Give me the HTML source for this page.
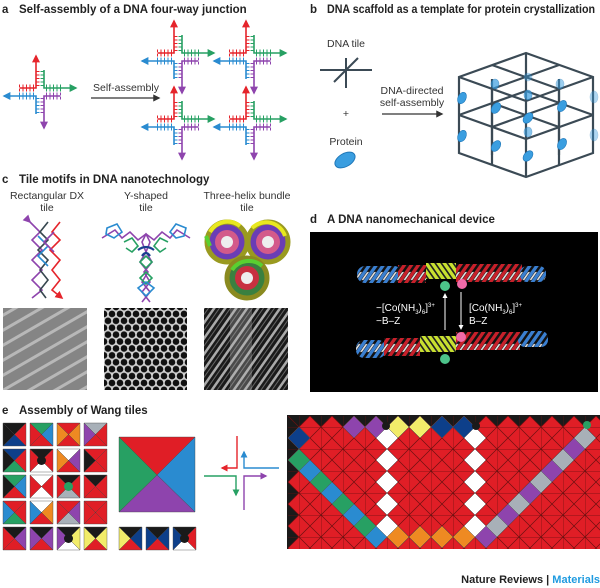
<!DOCTYPE html>
<html><head><meta charset="utf-8"><style>
html,body{margin:0;padding:0;background:#fff;}
svg{display:block;font-family:"Liberation Sans",sans-serif;}
.t{font-weight:bold;font-size:11.5px;fill:#222;}
.l{font-size:10.5px;fill:#333;}
</style></head><body>
<svg width="600" height="588" viewBox="0 0 600 588" xmlns="http://www.w3.org/2000/svg">
<defs>
<marker id="ak" viewBox="0 0 10 10" refX="8" refY="5" markerWidth="6" markerHeight="6" orient="auto"><path d="M0,0L10,5L0,10z" fill="#333"/></marker>
<marker id="ar" viewBox="0 0 10 10" refX="8" refY="5" markerWidth="5" markerHeight="5" orient="auto"><path d="M0,0L10,5L0,10z" fill="#e5242b"/></marker>
<marker id="ag" viewBox="0 0 10 10" refX="8" refY="5" markerWidth="5" markerHeight="5" orient="auto"><path d="M0,0L10,5L0,10z" fill="#27a063"/></marker>
<marker id="ab" viewBox="0 0 10 10" refX="8" refY="5" markerWidth="5" markerHeight="5" orient="auto"><path d="M0,0L10,5L0,10z" fill="#2a8bd0"/></marker>
<marker id="ap" viewBox="0 0 10 10" refX="8" refY="5" markerWidth="5" markerHeight="5" orient="auto"><path d="M0,0L10,5L0,10z" fill="#8e44ad"/></marker>
<marker id="aw" viewBox="0 0 10 10" refX="8" refY="5" markerWidth="5" markerHeight="5" orient="auto"><path d="M0,0L10,5L0,10z" fill="#fff"/></marker>
<g id="jn" fill="none" stroke-width="1.6">
 <path d="M-20,-4H-4V-36" stroke="#e5242b" marker-end="url(#ar)"/>
 <path d="M4,-22V-4H36" stroke="#27a063" marker-end="url(#ag)"/>
 <path d="M20,4H4V36" stroke="#8e44ad" marker-end="url(#ap)"/>
 <path d="M-4,22V4H-36" stroke="#2a8bd0" marker-end="url(#ab)"/>
 <g stroke-width="3" stroke-dasharray="1 2.5">
  <line x1="-2" y1="-6" x2="-2" y2="-22" stroke="#e5242b"/><line x1="2" y1="-6" x2="2" y2="-22" stroke="#27a063"/>
  <line x1="6" y1="-6" x2="22" y2="-6" stroke="#27a063"/><line x1="6" y1="-2" x2="22" y2="-2" stroke="#27a063"/>
  <line x1="6" y1="2" x2="22" y2="2" stroke="#8e44ad"/><line x1="6" y1="6" x2="22" y2="6" stroke="#8e44ad"/>
  <line x1="2" y1="6" x2="2" y2="22" stroke="#8e44ad"/><line x1="-2" y1="6" x2="-2" y2="22" stroke="#2a8bd0"/>
  <line x1="-6" y1="2" x2="-22" y2="2" stroke="#2a8bd0"/><line x1="-6" y1="6" x2="-22" y2="6" stroke="#2a8bd0"/>
  <line x1="-6" y1="-2" x2="-22" y2="-2" stroke="#e5242b"/><line x1="-6" y1="-6" x2="-22" y2="-6" stroke="#e5242b"/>
 </g>
</g>
<pattern id="grid" x="299" y="427" width="22" height="22" patternUnits="userSpaceOnUse">
 <path d="M0,0H22M0,0V22M0,0L22,22M22,0L0,22" stroke="#6b1010" stroke-width="0.7" fill="none"/>
</pattern>
<pattern id="dx" width="13" height="13" patternUnits="userSpaceOnUse" patternTransform="rotate(-30)">
 <rect width="13" height="13" fill="#858585"/><rect width="13" height="3" fill="#b8b8b8"/>
</pattern>
<pattern id="hex" width="8" height="13.8" patternUnits="userSpaceOnUse">
 <rect width="8" height="13.8" fill="#d0d0d0"/><circle cx="4" cy="3.45" r="3.3" fill="#111"/><circle cx="0" cy="10.35" r="3.3" fill="#111"/><circle cx="8" cy="10.35" r="3.3" fill="#111"/>
</pattern>
<pattern id="hel" width="9" height="9" patternUnits="userSpaceOnUse" patternTransform="rotate(35)">
 <rect width="9" height="9" fill="#1a1a1a"/><rect width="2.5" height="9" fill="#aaa"/><rect x="5" width="1" height="9" fill="#666"/>
</pattern>
<pattern id="pb" width="7" height="24" patternUnits="userSpaceOnUse" patternTransform="skewX(-35)"><rect width="7" height="24" fill="#111"/><rect width="4" height="24" fill="#3a7fd0"/><rect x="4.5" y="8" width="2" height="8" fill="#ddd"/></pattern>
<pattern id="pr" width="7" height="24" patternUnits="userSpaceOnUse" patternTransform="skewX(-35)"><rect width="7" height="24" fill="#111"/><rect width="4" height="24" fill="#c8202a"/><rect x="4.5" y="8" width="2" height="8" fill="#ddd"/></pattern>
<pattern id="py" width="6" height="24" patternUnits="userSpaceOnUse" patternTransform="skewX(35)"><rect width="6" height="24" fill="#222"/><rect width="4" height="24" fill="#c8e030"/></pattern>
</defs>

<!-- Panel a -->
<text x="2" y="13" class="t">a</text><text x="19" y="13" class="t">Self-assembly of a DNA four-way junction</text>
<use href="#jn" x="40" y="92"/>
<use href="#jn" x="178" y="57"/><use href="#jn" x="250" y="57"/>
<use href="#jn" x="178" y="123"/><use href="#jn" x="250" y="123"/>
<text x="126" y="91" class="l" text-anchor="middle">Self-assembly</text>
<line x1="91" y1="98" x2="159" y2="98" stroke="#333" stroke-width="1.2" marker-end="url(#ak)"/>

<!-- Panel b -->
<text x="310" y="13" class="t">b</text><text x="327" y="13" class="t" textLength="268" lengthAdjust="spacingAndGlyphs">DNA scaffold as a template for protein crystallization</text>
<text x="346" y="47" class="l" text-anchor="middle">DNA tile</text>
<g stroke="#3b4a55" stroke-width="2"><line x1="320" y1="70" x2="372" y2="70"/><line x1="346" y1="58" x2="346" y2="88"/><line x1="334" y1="82" x2="358" y2="58"/></g>
<text x="346" y="117" class="l" text-anchor="middle">+</text>
<text x="346" y="145" class="l" text-anchor="middle">Protein</text>
<ellipse cx="345" cy="160" rx="11" ry="6.5" fill="#3a9ee0" stroke="#1f77b8" transform="rotate(-30 345 160)"/>
<text x="412" y="94" class="l" text-anchor="middle">DNA-directed</text>
<text x="412" y="106" class="l" text-anchor="middle">self-assembly</text>
<line x1="382" y1="114" x2="442" y2="114" stroke="#333" stroke-width="1.2" marker-end="url(#ak)"/>
<g stroke="#3b4a55" stroke-width="2.2" fill="none">
<path d="M526,53L593,77L593,153L526,177L459,153L459,77Z"/>
<path d="M492,65L559,89L559,165M559,65L492,89L492,165M459,77L526,101L593,77M526,101V177M526,53V139"/>
<path d="M459,115L526,139L593,115M492,103L559,127M559,103L492,127"/>
<path d="M526,91L593,115M526,91L459,115M492,79V155M559,79V155"/>
</g>
<g fill="#3a9ee0" stroke="#1f77b8" stroke-width="0.6">
<ellipse cx="462" cy="98" rx="4" ry="6" transform="rotate(25 462 98)"/><ellipse cx="462" cy="136" rx="4" ry="6" transform="rotate(25 462 136)"/>
<ellipse cx="496" cy="108" rx="4" ry="6" transform="rotate(35 496 108)"/><ellipse cx="496" cy="146" rx="4" ry="6" transform="rotate(35 496 146)"/>
<ellipse cx="528" cy="118" rx="4" ry="6" transform="rotate(40 528 118)"/><ellipse cx="528" cy="156" rx="4" ry="6" transform="rotate(40 528 156)"/>
<ellipse cx="562" cy="106" rx="4" ry="6" transform="rotate(30 562 106)"/><ellipse cx="562" cy="144" rx="4" ry="6" transform="rotate(30 562 144)"/>
<ellipse cx="528" cy="95" rx="4" ry="5" opacity="0.7"/><ellipse cx="495" cy="84" rx="4" ry="5" opacity="0.7"/><ellipse cx="528" cy="77" rx="4" ry="4" opacity="0.4"/>
<ellipse cx="560" cy="84" rx="4" ry="5" opacity="0.5"/><ellipse cx="594" cy="97" rx="4" ry="6" opacity="0.4"/><ellipse cx="594" cy="135" rx="4" ry="6" opacity="0.4"/>
<ellipse cx="528" cy="132" rx="4" ry="5" opacity="0.6"/>
</g>

<!-- Panel c -->
<text x="2" y="183" class="t">c</text><text x="19" y="183" class="t">Tile motifs in DNA nanotechnology</text>
<text x="47" y="199" class="l" text-anchor="middle">Rectangular DX</text><text x="47" y="211" class="l" text-anchor="middle">tile</text>
<text x="146" y="199" class="l" text-anchor="middle">Y-shaped</text><text x="146" y="211" class="l" text-anchor="middle">tile</text>
<text x="247" y="199" class="l" text-anchor="middle">Three-helix bundle</text><text x="247" y="211" class="l" text-anchor="middle">tile</text>
<g fill="none" stroke-width="1.6">
<path d="M30,222L40,232L32,240L42,250L32,260L42,270L32,280L42,290L32,298" stroke="#8e44ad" marker-start="url(#ap)"/>
<path d="M48,222L40,232L48,240L38,250L48,260L40,270L48,280L40,290L46,298" stroke="#37474f"/>
<path d="M60,222L52,232L60,240L50,250L60,260L52,270L60,280L52,290L62,298" stroke="#e5242b" marker-end="url(#ar)"/>
<path d="M38,236L48,246L38,256L48,266" stroke="#2a8bd0"/>
<path d="M54,232L44,242L54,252" stroke="#8e44ad"/>
<path d="M102,238L115,230L122,238L130,232L138,240L146,234L150,242L146,252L152,262L144,272L150,282L142,292L150,302" stroke="#8e44ad"/>
<path d="M190,238L177,230L170,238L162,232L154,240L146,234L142,242L146,252L140,262L148,272L142,282L150,292L142,302" stroke="#8e44ad"/>
<path d="M107,228L117,224L122,232L114,238L106,234Z M176,224L186,228L184,236L176,238L170,232Z" stroke="#2a8bd0"/>
<path d="M124,242L132,238L138,246L132,252L126,248 M168,242L160,238L154,246L160,252L166,248 M140,262L146,256L152,262L146,268Z M140,278L146,272L152,278L146,284Z" stroke="#27a063"/>
<path d="M138,250Q146,244 154,250M142,256Q146,250 150,256" stroke="#1a3f8f" stroke-width="2.2"/>
<path d="M138,288L146,282L154,288L146,296Z" stroke="#2a8bd0"/>
</g>
<g>
<circle cx="227" cy="242" r="20" fill="#6a3db5" stroke="#9a9a20" stroke-width="5"/><circle cx="227" cy="242" r="12" fill="#d35a8a"/><circle cx="227" cy="242" r="6" fill="#eee"/>
<circle cx="268" cy="242" r="20" fill="#6a3db5" stroke="#9a9a20" stroke-width="5"/><circle cx="268" cy="242" r="12" fill="#d35a8a"/><circle cx="268" cy="242" r="6" fill="#eee"/>
<circle cx="247" cy="278" r="20" fill="#3a8040" stroke="#8a8a20" stroke-width="5"/><circle cx="247" cy="278" r="12" fill="#c83040"/><circle cx="247" cy="278" r="6" fill="#eee"/>
<path d="M210,232A20,20 0 0 1 240,226M252,228A20,20 0 0 1 285,236" stroke="#e8e820" stroke-width="4" fill="none"/>
<path d="M232,270A20,20 0 0 1 262,266M210,246L206,236" stroke="#5ad030" stroke-width="4" fill="none"/>
</g>
<rect x="3" y="308" width="84" height="82" fill="url(#dx)"/>
<rect x="104" y="308" width="83" height="82" fill="url(#hex)"/>
<rect x="204" y="308" width="84" height="82" fill="url(#hel)"/>
<rect x="230" y="308" width="22" height="82" fill="#bbb" opacity="0.3"/>

<!-- Panel d -->
<text x="310" y="223" class="t">d</text><text x="327" y="223" class="t">A DNA nanomechanical device</text>
<rect x="310" y="232" width="288" height="160" fill="#000"/>
<g>
<rect x="357" y="266" width="45" height="17" rx="8" fill="url(#pb)"/>
<rect x="398" y="265" width="28" height="18" fill="url(#pr)"/>
<rect x="426" y="263" width="30" height="16" fill="url(#py)"/>
<rect x="456" y="264" width="66" height="18" fill="url(#pr)"/>
<rect x="520" y="266" width="26" height="16" rx="7" fill="url(#pb)"/>
<rect x="356" y="340" width="30" height="18" rx="8" fill="url(#pb)"/>
<rect x="384" y="338" width="36" height="18" fill="url(#pr)"/>
<rect x="420" y="336" width="36" height="16" fill="url(#py)"/>
<rect x="456" y="332" width="64" height="18" fill="url(#pr)"/>
<rect x="518" y="331" width="30" height="16" rx="7" fill="url(#pb)"/>
</g>
<circle cx="445" cy="286" r="5" fill="#4cc38a"/><circle cx="462" cy="284" r="5" fill="#f06aa8"/>
<circle cx="461" cy="337" r="5" fill="#f06aa8"/><circle cx="445" cy="359" r="5" fill="#4cc38a"/>
<line x1="445" y1="330" x2="445" y2="294" stroke="#fff" stroke-width="1" marker-end="url(#aw)"/>
<line x1="461" y1="292" x2="461" y2="329" stroke="#fff" stroke-width="1" marker-end="url(#aw)"/>
<text x="376" y="311" font-size="10" fill="#fff">−[Co(NH<tspan font-size="6" dy="3">3</tspan><tspan dy="-3">)</tspan><tspan font-size="6" dy="3">6</tspan><tspan dy="-3">]</tspan><tspan font-size="6" dy="-4">3+</tspan></text>
<text x="376" y="324" font-size="10" fill="#fff">−B–Z</text>
<text x="469" y="311" font-size="10" fill="#fff">[Co(NH<tspan font-size="6" dy="3">3</tspan><tspan dy="-3">)</tspan><tspan font-size="6" dy="3">6</tspan><tspan dy="-3">]</tspan><tspan font-size="6" dy="-4">3+</tspan></text>
<text x="469" y="324" font-size="10" fill="#fff">B–Z</text>

<!-- Panel e -->
<text x="2" y="414" class="t">e</text><text x="19" y="414" class="t">Assembly of Wang tiles</text>
<g stroke="#444" stroke-width="0.4">
<g transform="translate(3,423)"><path d="M0,0H23L11.5,11.5Z" fill="#1a1a1a"/><path d="M23,0V23L11.5,11.5Z" fill="#e01e26"/><path d="M0,23H23L11.5,11.5Z" fill="#0d3f8a"/><path d="M0,0V23L11.5,11.5Z" fill="#1a1a1a"/></g>
<g transform="translate(30,423)"><path d="M0,0H23L11.5,11.5Z" fill="#27a063"/><path d="M23,0V23L11.5,11.5Z" fill="#2a8bd0"/><path d="M0,23H23L11.5,11.5Z" fill="#e01e26"/><path d="M0,0V23L11.5,11.5Z" fill="#e01e26"/></g>
<g transform="translate(57,423)"><path d="M0,0H23L11.5,11.5Z" fill="#e01e26"/><path d="M23,0V23L11.5,11.5Z" fill="#ee8a22"/><path d="M0,23H23L11.5,11.5Z" fill="#e01e26"/><path d="M0,0V23L11.5,11.5Z" fill="#ee8a22"/></g>
<g transform="translate(84,423)"><path d="M0,0H23L11.5,11.5Z" fill="#a8b0b8"/><path d="M23,0V23L11.5,11.5Z" fill="#e01e26"/><path d="M0,23H23L11.5,11.5Z" fill="#e01e26"/><path d="M0,0V23L11.5,11.5Z" fill="#8e44ad"/></g>
<g transform="translate(3,449)"><path d="M0,0H23L11.5,11.5Z" fill="#0d3f8a"/><path d="M23,0V23L11.5,11.5Z" fill="#e01e26"/><path d="M0,23H23L11.5,11.5Z" fill="#27a063"/><path d="M0,0V23L11.5,11.5Z" fill="#1a1a1a"/></g>
<g transform="translate(30,449)"><path d="M0,0H23L11.5,11.5Z" fill="#1a1a1a"/><path d="M23,0V23L11.5,11.5Z" fill="#e01e26"/><path d="M0,23H23L11.5,11.5Z" fill="#fff"/><path d="M0,0V23L11.5,11.5Z" fill="#e01e26"/><circle cx="11.5" cy="11.5" r="4.5" fill="#1a1a1a" stroke="none"/></g>
<g transform="translate(57,449)"><path d="M0,0H23L11.5,11.5Z" fill="#fff"/><path d="M23,0V23L11.5,11.5Z" fill="#8e44ad"/><path d="M0,23H23L11.5,11.5Z" fill="#e01e26"/><path d="M0,0V23L11.5,11.5Z" fill="#ee8a22"/></g>
<g transform="translate(84,449)"><path d="M0,0H23L11.5,11.5Z" fill="#e01e26"/><path d="M23,0V23L11.5,11.5Z" fill="#e01e26"/><path d="M0,23H23L11.5,11.5Z" fill="#e01e26"/><path d="M0,0V23L11.5,11.5Z" fill="#1a1a1a"/></g>
<g transform="translate(3,475)"><path d="M0,0H23L11.5,11.5Z" fill="#27a063"/><path d="M23,0V23L11.5,11.5Z" fill="#2a8bd0"/><path d="M0,23H23L11.5,11.5Z" fill="#e01e26"/><path d="M0,0V23L11.5,11.5Z" fill="#1a1a1a"/></g>
<g transform="translate(30,475)"><path d="M0,0H23L11.5,11.5Z" fill="#fff"/><path d="M23,0V23L11.5,11.5Z" fill="#e01e26"/><path d="M0,23H23L11.5,11.5Z" fill="#fff"/><path d="M0,0V23L11.5,11.5Z" fill="#e01e26"/></g>
<g transform="translate(57,475)"><path d="M0,0H23L11.5,11.5Z" fill="#1a1a1a"/><path d="M23,0V23L11.5,11.5Z" fill="#e01e26"/><path d="M0,23H23L11.5,11.5Z" fill="#a8b0b8"/><path d="M0,0V23L11.5,11.5Z" fill="#e01e26"/><circle cx="11.5" cy="11.5" r="4.5" fill="#27a063" stroke="none"/></g>
<g transform="translate(84,475)"><path d="M0,0H23L11.5,11.5Z" fill="#1a1a1a"/><path d="M23,0V23L11.5,11.5Z" fill="#e01e26"/><path d="M0,23H23L11.5,11.5Z" fill="#e01e26"/><path d="M0,0V23L11.5,11.5Z" fill="#e01e26"/></g>
<g transform="translate(3,501)"><path d="M0,0H23L11.5,11.5Z" fill="#e01e26"/><path d="M23,0V23L11.5,11.5Z" fill="#e01e26"/><path d="M0,23H23L11.5,11.5Z" fill="#27a063"/><path d="M0,0V23L11.5,11.5Z" fill="#2a8bd0"/></g>
<g transform="translate(30,501)"><path d="M0,0H23L11.5,11.5Z" fill="#fff"/><path d="M23,0V23L11.5,11.5Z" fill="#ee8a22"/><path d="M0,23H23L11.5,11.5Z" fill="#e01e26"/><path d="M0,0V23L11.5,11.5Z" fill="#2a8bd0"/></g>
<g transform="translate(57,501)"><path d="M0,0H23L11.5,11.5Z" fill="#e01e26"/><path d="M23,0V23L11.5,11.5Z" fill="#8e44ad"/><path d="M0,23H23L11.5,11.5Z" fill="#a8b0b8"/><path d="M0,0V23L11.5,11.5Z" fill="#e01e26"/></g>
<g transform="translate(84,501)"><path d="M0,0H23L11.5,11.5Z" fill="#e01e26"/><path d="M23,0V23L11.5,11.5Z" fill="#e01e26"/><path d="M0,23H23L11.5,11.5Z" fill="#e01e26"/><path d="M0,0V23L11.5,11.5Z" fill="#e01e26"/></g>
<g transform="translate(3,527)"><path d="M0,0H23L11.5,11.5Z" fill="#1a1a1a"/><path d="M23,0V23L11.5,11.5Z" fill="#8e44ad"/><path d="M0,23H23L11.5,11.5Z" fill="#e01e26"/><path d="M0,0V23L11.5,11.5Z" fill="#e01e26"/></g>
<g transform="translate(30,527)"><path d="M0,0H23L11.5,11.5Z" fill="#1a1a1a"/><path d="M23,0V23L11.5,11.5Z" fill="#8e44ad"/><path d="M0,23H23L11.5,11.5Z" fill="#e01e26"/><path d="M0,0V23L11.5,11.5Z" fill="#8e44ad"/></g>
<g transform="translate(57,527)"><path d="M0,0H23L11.5,11.5Z" fill="#1a1a1a"/><path d="M23,0V23L11.5,11.5Z" fill="#f2ec6a"/><path d="M0,23H23L11.5,11.5Z" fill="#fff"/><path d="M0,0V23L11.5,11.5Z" fill="#8e44ad"/><circle cx="11.5" cy="11.5" r="4.5" fill="#1a1a1a" stroke="none"/></g>
<g transform="translate(84,527)"><path d="M0,0H23L11.5,11.5Z" fill="#1a1a1a"/><path d="M23,0V23L11.5,11.5Z" fill="#f2ec6a"/><path d="M0,23H23L11.5,11.5Z" fill="#e01e26"/><path d="M0,0V23L11.5,11.5Z" fill="#f2ec6a"/></g>
<g transform="translate(119,437)"><path d="M0,0H76L38,38Z" fill="#e01e26"/><path d="M76,0V75L38,38Z" fill="#2a8bd0"/><path d="M0,75H76L38,38Z" fill="#8e44ad"/><path d="M0,0V75L38,38Z" fill="#27a063"/></g>
<g transform="translate(119,527)"><path d="M0,0H23L11.5,11.5Z" fill="#1a1a1a"/><path d="M23,0V23L11.5,11.5Z" fill="#0d3f8a"/><path d="M0,23H23L11.5,11.5Z" fill="#e01e26"/><path d="M0,0V23L11.5,11.5Z" fill="#f2ec6a"/></g>
<g transform="translate(146,527)"><path d="M0,0H23L11.5,11.5Z" fill="#1a1a1a"/><path d="M23,0V23L11.5,11.5Z" fill="#0d3f8a"/><path d="M0,23H23L11.5,11.5Z" fill="#e01e26"/><path d="M0,0V23L11.5,11.5Z" fill="#0d3f8a"/></g>
<g transform="translate(173,527)"><path d="M0,0H23L11.5,11.5Z" fill="#1a1a1a"/><path d="M23,0V23L11.5,11.5Z" fill="#e01e26"/><path d="M0,23H23L11.5,11.5Z" fill="#fff"/><path d="M0,0V23L11.5,11.5Z" fill="#0d3f8a"/><circle cx="11.5" cy="11.5" r="4.5" fill="#1a1a1a" stroke="none"/></g>
</g>
<g fill="none" stroke-width="1.4">
<path d="M237,436V468H222" stroke="#e5242b" marker-end="url(#ar)"/>
<path d="M279,468H244V452" stroke="#2a8bd0" marker-end="url(#ab)"/>
<path d="M204,476H236V495" stroke="#27a063" marker-end="url(#ag)"/>
<path d="M244,510V476H266" stroke="#8e44ad" marker-end="url(#ap)"/>
</g>

<!-- mosaic -->
<rect x="287" y="415" width="313" height="134" fill="#1a1a1a"/>
<rect x="288" y="416" width="312" height="133" fill="#e01e26"/>
<g fill="#1a1a1a">
<path d="M288,416H310L299,427Z M310,416H332L321,427Z M332,416H354L343,427Z M354,416H376L365,427Z M376,416H398L387,427Z M398,416H420L409,427Z M420,416H442L431,427Z M442,416H464L453,427Z M464,416H486L475,427Z M486,416H508L497,427Z M508,416H530L519,427Z M530,416H552L541,427Z M552,416H574L563,427Z M574,416H596L585,427Z M596,416H600V420Z"/>
<path d="M288,416V438L299,427Z M288,438V460L299,449Z M288,460V482L299,471Z M288,482V504L299,493Z M288,504V526L299,515Z M288,526V548L299,537Z"/>
</g>
<rect x="288" y="416" width="312" height="133" fill="url(#grid)"/>
<g stroke="#555" stroke-width="0.5">
<path d="M354,416L365,427L354,438L343,427Z" fill="#8e44ad"/>
<path d="M376,416L387,427L376,438L365,427Z" fill="#8e44ad"/>
<path d="M398,416L409,427L398,438L387,427Z" fill="#f2ec6a"/>
<path d="M420,416L431,427L420,438L409,427Z" fill="#f2ec6a"/>
<path d="M442,416L453,427L442,438L431,427Z" fill="#0d3f8a"/>
<path d="M464,416L475,427L464,438L453,427Z" fill="#0d3f8a"/>
<path d="M299,427L310,438L299,449L288,438Z" fill="#0d3f8a"/>
<path d="M387,427L398,438L387,449L376,438Z M387,449L398,460L387,471L376,460Z M387,471L398,482L387,493L376,482Z M387,493L398,504L387,515L376,504Z M387,515L398,526L387,537L376,526Z" fill="#fff"/>
<path d="M475,427L486,438L475,449L464,438Z M475,449L486,460L475,471L464,460Z M475,471L486,482L475,493L464,482Z M475,493L486,504L475,515L464,504Z M475,515L486,526L475,537L464,526Z" fill="#fff"/>
<path d="M299,449L310,460L299,471L288,460Z M321,471L332,482L321,493L310,482Z M343,493L354,504L343,515L332,504Z M365,515L376,526L365,537L354,526Z" fill="#27a063"/>
<path d="M310,460L321,471L310,482L299,471Z M332,482L343,493L332,504L321,493Z M354,504L365,515L354,526L343,515Z M376,526L387,537L376,548L365,537Z" fill="#2a8bd0"/>
<path d="M398,526L409,537L398,548L387,537Z M420,526L431,537L420,548L409,537Z M442,526L453,537L442,548L431,537Z M464,526L475,537L464,548L453,537Z" fill="#ee8a22"/>
<path d="M486,526L497,537L486,548L475,537Z M508,504L519,515L508,526L497,515Z M530,482L541,493L530,504L519,493Z M552,460L563,471L552,482L541,471Z M574,438L585,449L574,460L563,449Z" fill="#8e44ad"/>
<path d="M497,515L508,526L497,537L486,526Z M519,493L530,504L519,515L508,504Z M541,471L552,482L541,493L530,482Z M563,449L574,460L563,471L552,460Z M585,427L596,438L585,449L574,438Z" fill="#a8b0b8"/>
</g>
<circle cx="386" cy="426" r="4" fill="#1a1a1a"/><circle cx="476" cy="426" r="4" fill="#1a1a1a"/>
<circle cx="587" cy="425" r="4" fill="#27a063"/>

<text x="600" y="583" font-size="11" font-weight="bold" text-anchor="end"><tspan fill="#222">Nature Reviews | </tspan><tspan fill="#1f9be0">Materials</tspan></text>
</svg>
</body></html>
